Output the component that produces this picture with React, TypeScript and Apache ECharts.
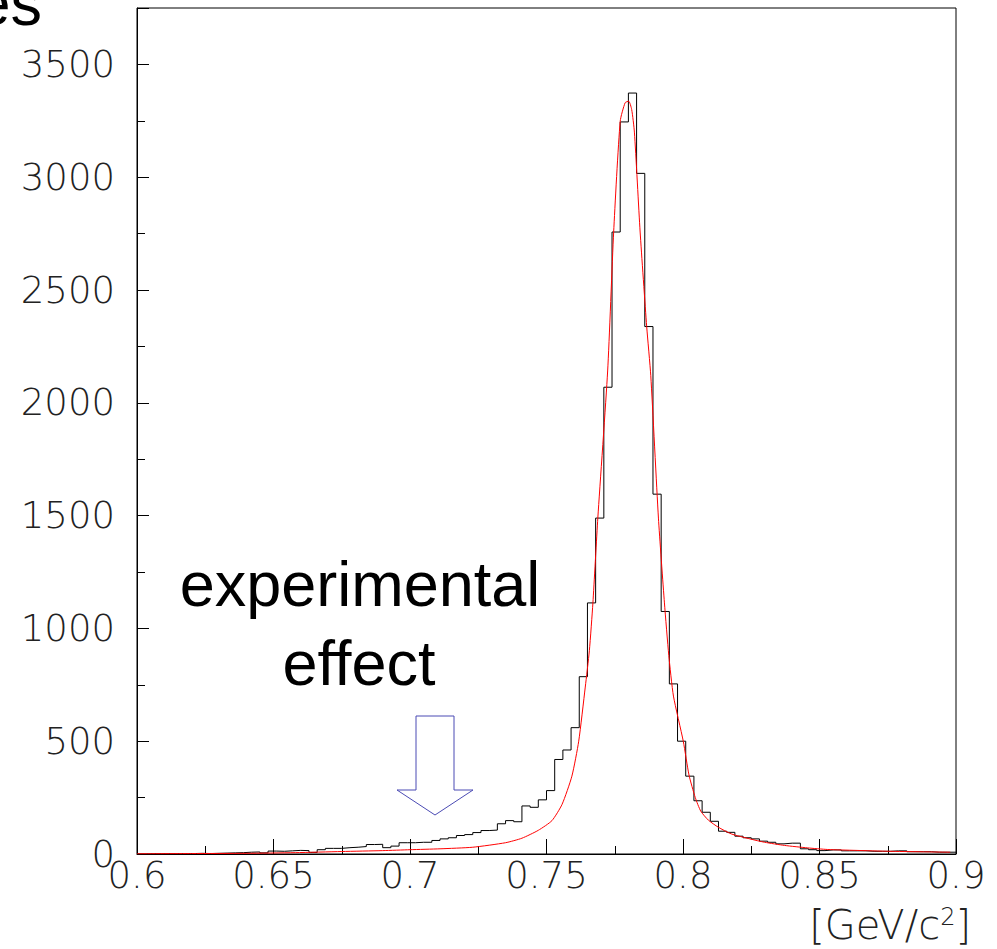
import React, { useEffect, useRef } from "react";
import * as echarts from "echarts";

// Histogram: 100 bins of 0.003 GeV/c^2 from 0.6 to 0.9
const binStart = 0.6;
const binWidth = 0.003;
const counts = [
  0, 1, 1, 2, 1, 2, 2, 3, 2, 3,
  4, 5, 6, 8, 9, 5, 13, 12, 14, 16,
  15, 7, 19, 25, 25, 28, 30, 33, 42, 43,
  28, 35, 50, 50, 52, 52, 60, 67, 72, 82,
  86, 95, 104, 106, 134, 148, 143, 213, 207, 240,
  281, 419, 461, 560, 786, 1113, 1489, 2069, 2757, 3245,
  3373, 3017, 2338, 1595, 1075, 754, 500, 345, 236, 185,
  145, 101, 96, 79, 72, 67, 57, 52, 45, 48,
  48, 23, 19, 15, 18, 18, 14, 14, 14, 12,
  12, 12, 14, 14, 10, 10, 10, 8, 8, 8,
];

// Fit curve
const fitX = [
  0.6, 0.62, 0.64, 0.658, 0.675, 0.69, 0.7, 0.711, 0.723, 0.735,
  0.741, 0.747, 0.752, 0.7557, 0.7593, 0.7618, 0.7642, 0.7657, 0.767, 0.7688,
  0.7724, 0.7746, 0.777, 0.7788, 0.7801, 0.7812, 0.7822, 0.7843, 0.7867, 0.7882,
  0.791, 0.7932, 0.7948, 0.7965, 0.8001, 0.8022, 0.8045, 0.8065, 0.8093, 0.8129,
  0.8177, 0.8245, 0.8299, 0.8372, 0.8457, 0.853, 0.8633, 0.8756, 0.8979,
];
const fitY = [
  1, 2, 3, 6, 11, 15, 19, 23, 30, 50,
  70, 105, 148, 220, 345, 500, 740, 901, 1113, 1489,
  2141, 2757, 3248, 3330, 3337, 3300, 3200, 2757, 2338, 2120,
  1489, 1113, 880, 700, 500, 350, 250, 190, 150, 119,
  89, 67, 52, 38, 27, 20, 16, 12, 8,
];

const xMin = 0.6;
const xMax = 0.9;
const xStep = 0.05;
const yMin = 0;
const yMax = 3750;
const yStep = 500;

const xTitle = "[GeV/c";
const yTitleVisible = "es";
const annotation1 = "experimental";
const annotation2 = "effect";

const labelFont = "DejaVu Sans";
const bigFont = "Liberation Sans";

export default function App() {
  const ref = useRef<HTMLDivElement>(null);
  useEffect(() => {
    if (!ref.current) return;
    const chart = echarts.init(ref.current, null, { renderer: "svg" });
    const histData: number[][] = counts.map((c, k) => [binStart + k * binWidth, c]);
    histData.push([binStart + counts.length * binWidth, counts[counts.length - 1]]);
    const fitData = fitX.map((x, i) => [x, fitY[i]]);
    const labelStyle = {
      fontFamily: labelFont,
      fontWeight: 200 as any,
      fontSize: 37,
      color: "#222",
    };
    chart.setOption({
      animation: false,
      backgroundColor: "#fff",
      grid: {
        left: 137,
        right: 41,
        top: 8,
        bottom: 95,
        show: true,
        borderColor: "#000",
        borderWidth: 1,
        containLabel: false,
      },
      xAxis: {
        type: "value",
        min: xMin,
        max: xMax,
        interval: xStep,
        axisLine: { show: true, lineStyle: { color: "#000", width: 1 } },
        axisTick: { show: true, inside: true, length: 15, lineStyle: { color: "#000" } },
        minorTick: { show: true, splitNumber: 2, length: 8, lineStyle: { color: "#000" } },
        splitLine: { show: false },
        minorSplitLine: { show: false },
        axisLabel: {
          ...labelStyle,
          margin: 3,
          showMaxLabel: true,
          showMinLabel: true,
          formatter: (v: number) => String(+v.toFixed(2)),
        },
      },
      yAxis: {
        type: "value",
        min: yMin,
        max: yMax,
        interval: yStep,
        axisLine: { show: true, lineStyle: { color: "#000", width: 1 } },
        axisTick: { show: true, inside: true, length: 12, lineStyle: { color: "#000" } },
        minorTick: { show: true, splitNumber: 2, length: 8, lineStyle: { color: "#000" } },
        splitLine: { show: false },
        minorSplitLine: { show: false },
        axisLabel: {
          ...labelStyle,
          margin: 22,
          formatter: (v: number) => (Math.round(v) % yStep === 0 ? String(Math.round(v)) : ""),
        },
      },
      series: [
        {
          type: "line",
          data: histData,
          step: "end",
          symbol: "none",
          lineStyle: { color: "#000", width: 1 },
          z: 2,
        },
        {
          type: "line",
          data: fitData,
          symbol: "none",
          smooth: 0.2,
          lineStyle: { color: "#ff0000", width: 1 },
          z: 3,
        },
      ],
      graphic: [
        {
          type: "polygon",
          shape: {
            points: [
              [416, 716], [454, 716], [454, 790], [473, 790],
              [435, 815], [397, 790], [416, 790],
            ],
          },
          style: { fill: "none", stroke: "#4b4bb4", lineWidth: 1 },
        },
        {
          type: "text",
          x: 360,
          y: 584,
          style: {
            text: annotation1,
            font: `63px "${bigFont}"`,
            fill: "#000",
            textAlign: "center",
            textVerticalAlign: "middle",
          },
        },
        {
          type: "text",
          x: 359,
          y: 663,
          style: {
            text: annotation2,
            font: `63px "${bigFont}"`,
            fill: "#000",
            textAlign: "center",
            textVerticalAlign: "middle",
          },
        },
        {
          type: "text",
          x: 42,
          y: 3,
          style: {
            text: yTitleVisible,
            font: `63px "${bigFont}"`,
            fill: "#000",
            textAlign: "right",
            textVerticalAlign: "middle",
          },
        },
        {
          type: "text",
          right: 26,
          top: 905,
          style: {
            text: `{a|${xTitle}}{s|2}{a|]}`,
            rich: {
              a: { fontFamily: labelFont, fontWeight: 200, fontSize: 40, fill: "#222", color: "#222", verticalAlign: "bottom" },
              s: { fontFamily: labelFont, fontWeight: 200, fontSize: 24, fill: "#222", color: "#222", verticalAlign: "top", padding: [0, 0, 15, 0] },
            },
          } as any,
        },
      ],
    });
    return () => chart.dispose();
  }, []);
  return (
    <div
      ref={ref}
      style={{ position: "fixed", left: 0, top: 0, width: 997, height: 949 }}
    />
  );
}
